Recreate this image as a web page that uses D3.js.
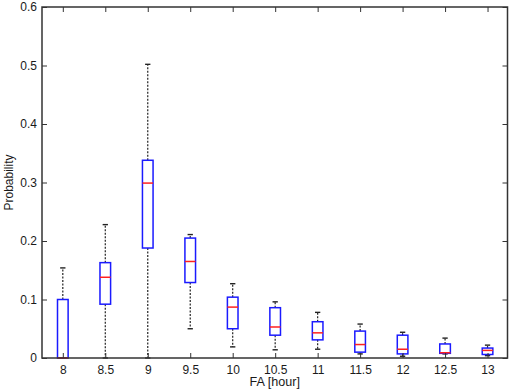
<!DOCTYPE html>
<html>
  <head>
    <meta charset="UTF-8" />
    <script src="https://cdnjs.cloudflare.com/ajax/libs/d3/7.8.5/d3.min.js"></script>
    <style>
      body { margin: 0; background: #fff; }
      text { font-family: "Liberation Sans", Arial, sans-serif; }
    </style>
  </head>
  <body>
    <svg id="chart" width="510" height="392"></svg>
    <script>
      const categories = ["8", "8.5", "9", "9.5", "10", "10.5", "11", "11.5", "12", "12.5", "13"];
      const whiskerLow = [0, 0, 0, 0.05, 0.019, 0.014, 0.015, 0.007, 0.003, 0.007, 0.004];
      const q1 = [0, 0.092, 0.188, 0.129, 0.05, 0.039, 0.031, 0.01, 0.007, 0.008, 0.006];
      const medians = [0, 0.138, 0.299, 0.165, 0.087, 0.053, 0.043, 0.023, 0.015, 0.009, 0.013];
      const q3 = [0.1, 0.163, 0.338, 0.205, 0.104, 0.086, 0.062, 0.046, 0.039, 0.024, 0.017];
      const whiskerHigh = [0.154, 0.228, 0.502, 0.211, 0.127, 0.096, 0.078, 0.058, 0.044, 0.034, 0.022];
      const yTicks = [0, 0.1, 0.2, 0.3, 0.4, 0.5, 0.6];

      const data = categories.map((c, i) => ({
        cat: c,
        pos: i + 1,
        lo: whiskerLow[i],
        q1: q1[i],
        med: medians[i],
        q3: q3[i],
        hi: whiskerHigh[i]
      }));

      const plotL = 42, plotR = 507.5, plotT = 7, plotB = 358;
      const svg = d3.select("#chart");

      const x = d3.scaleLinear().domain([0.51, 11.47]).range([plotL, plotR]);
      const y = d3.scaleLinear().domain([0, 0.6]).range([plotB, plotT]);
      const boxW = x(1.25) - x(1);
      const capW = x(1.125) - x(1);

      const boxes = svg.append("g").selectAll("g").data(data).join("g");

      // whiskers (dashed)
      boxes.append("line")
        .attr("x1", d => x(d.pos)).attr("x2", d => x(d.pos))
        .attr("y1", d => y(d.q3)).attr("y2", d => y(d.hi))
        .attr("stroke", "#222").attr("stroke-width", 1.2).attr("stroke-dasharray", "2,1.5");
      boxes.append("line")
        .attr("x1", d => x(d.pos)).attr("x2", d => x(d.pos))
        .attr("y1", d => y(d.q1)).attr("y2", d => y(d.lo))
        .attr("stroke", "#222").attr("stroke-width", 1.2).attr("stroke-dasharray", "2,1.5");

      // caps
      boxes.append("line")
        .attr("x1", d => x(d.pos) - capW / 2).attr("x2", d => x(d.pos) + capW / 2)
        .attr("y1", d => y(d.hi)).attr("y2", d => y(d.hi))
        .attr("stroke", "#222").attr("stroke-width", 1.4);
      boxes.append("line")
        .attr("x1", d => x(d.pos) - capW / 2).attr("x2", d => x(d.pos) + capW / 2)
        .attr("y1", d => y(d.lo)).attr("y2", d => y(d.lo))
        .attr("stroke", "#222").attr("stroke-width", 1.4);

      // boxes
      boxes.append("rect")
        .attr("x", d => x(d.pos) - boxW / 2)
        .attr("y", d => y(d.q3))
        .attr("width", boxW)
        .attr("height", d => y(d.q1) - y(d.q3))
        .attr("fill", "none").attr("stroke", "#1a1aff").attr("stroke-width", 1.5);

      // medians
      boxes.append("line")
        .attr("x1", d => x(d.pos) - boxW / 2).attr("x2", d => x(d.pos) + boxW / 2)
        .attr("y1", d => y(d.med)).attr("y2", d => y(d.med))
        .attr("stroke", "#ff2020").attr("stroke-width", 1.5);

      // axes with inward ticks
      const xAxis = d3.axisBottom(x)
        .tickValues(data.map(d => d.pos))
        .tickFormat((d, i) => categories[i])
        .tickSizeInner(-5).tickSizeOuter(0).tickPadding(7);
      const gx = svg.append("g").attr("transform", `translate(0,${plotB})`).call(xAxis);
      gx.select(".domain").remove();

      svg.append("g").attr("transform", `translate(0,${plotT})`)
        .call(d3.axisTop(x).tickValues(data.map(d => d.pos)).tickFormat("").tickSizeInner(-5).tickSizeOuter(0))
        .select(".domain").remove();

      const yAxis = d3.axisLeft(y).tickValues(yTicks).tickFormat(d3.format("")).tickSizeInner(-5).tickSizeOuter(0).tickPadding(5);
      const gy = svg.append("g").attr("transform", `translate(${plotL},0)`).call(yAxis);
      gy.select(".domain").remove();

      svg.append("g").attr("transform", `translate(${plotR},0)`)
        .call(d3.axisRight(y).tickValues(yTicks).tickFormat("").tickSizeInner(-5).tickSizeOuter(0))
        .select(".domain").remove();

      svg.selectAll(".tick line").attr("stroke", "#333");
      svg.selectAll(".tick text").attr("font-size", 12).attr("fill", "#1a1a1a")
        .style("font-family", "'Liberation Sans', Arial, sans-serif");

      // frame on top, covers marks at zero
      svg.append("rect")
        .attr("x", plotL).attr("y", plotT)
        .attr("width", plotR - plotL).attr("height", plotB - plotT)
        .attr("fill", "none").attr("stroke", "#333").attr("stroke-width", 1.5);

      // axis labels
      svg.append("text")
        .attr("x", (plotL + plotR) / 2).attr("y", 386)
        .attr("text-anchor", "middle").attr("font-size", 12.6).attr("fill", "#1a1a1a")
        .text("FA [hour]");
      svg.append("text")
        .attr("transform", `translate(13,${(plotT + plotB) / 2}) rotate(-90)`)
        .attr("text-anchor", "middle").attr("font-size", 12).attr("fill", "#1a1a1a")
        .text("Probability");
    </script>
  </body>
</html>
